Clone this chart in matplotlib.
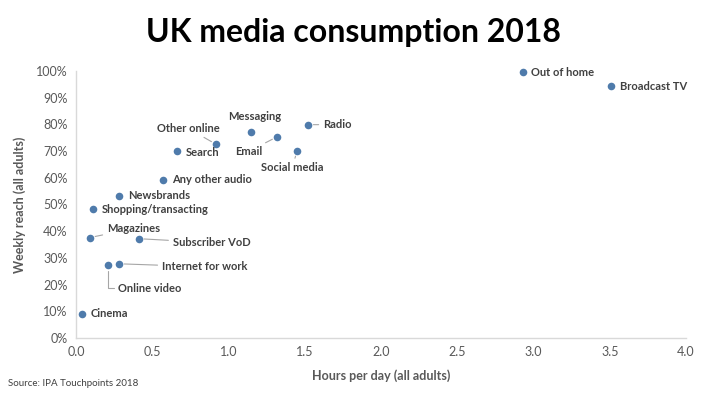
import matplotlib
matplotlib.use("Agg")
import matplotlib.pyplot as plt
from matplotlib.ticker import FuncFormatter

plt.rcParams['font.family'] = ['Lato', 'DejaVu Sans']

media = ["Out of home", "Broadcast TV", "Radio", "Messaging", "Email", "Other online",
         "Search", "Social media", "Any other audio", "Newsbrands", "Shopping/transacting",
         "Magazines", "Subscriber VoD", "Online video", "Internet for work", "Cinema"]
hours = [2.93, 3.51, 1.52, 1.15, 1.32, 0.92, 0.66, 1.45, 0.57, 0.28, 0.11,
         0.09, 0.41, 0.21, 0.28, 0.04]
reach = [0.995, 0.943, 0.799, 0.770, 0.754, 0.725, 0.700, 0.701, 0.592, 0.533, 0.483,
         0.376, 0.372, 0.272, 0.278, 0.090]

# label offsets in pixels: (dx, dy, ha, leader, connection)
label_pos = {
    "Out of home": (8, 0, 'left', False, None),
    "Broadcast TV": (9, 0, 'left', False, None),
    "Radio": (15, 0, 'left', True, None),
    "Messaging": (3, 16, 'center', False, None),
    "Other online": (-28, 16, 'center', True, None),
    "Search": (9, -1, 'left', False, None),
    "Email": (-29, -15, 'center', True, None),
    "Social media": (-5, -17, 'center', True, None),
    "Any other audio": (9, 0, 'left', False, None),
    "Newsbrands": (9, 0, 'left', False, None),
    "Shopping/transacting": (9, 0, 'left', False, None),
    "Magazines": (17, 9, 'left', True, None),
    "Subscriber VoD": (34, -4, 'left', True, None),
    "Online video": (10, -23, 'left', True, "angle,angleA=0,angleB=90,rad=0"),
    "Internet for work": (43, -3, 'left', True, None),
    "Cinema": (9, 0, 'left', False, None),
}

fig = plt.figure(figsize=(7.06, 3.99), dpi=100)
ax = fig.add_axes([76 / 706, 1 - 338 / 399, 610 / 706, 267 / 399])

ax.scatter(hours, reach, s=30, color='#4f7bab', zorder=3, linewidths=0, clip_on=False)

for name, x, y in zip(media, hours, reach):
    dx, dy, ha, leader, conn = label_pos[name]
    kw = {}
    if leader:
        props = dict(arrowstyle='-', color='#a6a6a6', lw=0.8, shrinkA=1, shrinkB=4)
        if conn:
            props['connectionstyle'] = conn
            props['relpos'] = (0, 0.5)
        kw['arrowprops'] = props
    ax.annotate(name, (x, y), xytext=(dx, dy), textcoords='offset pixels',
                ha=ha, va='center', fontsize=8, color='#404040', fontweight='bold', **kw)

ax.set_xlim(0, 4.0)
ax.set_ylim(0, 1.0)
ax.set_xticks([i * 0.5 for i in range(9)])
ax.set_yticks([i * 0.1 for i in range(11)])
ax.xaxis.set_major_formatter(FuncFormatter(lambda v, p: f"{v:.1f}"))
ax.yaxis.set_major_formatter(FuncFormatter(lambda v, p: f"{v * 100:.0f}%"))
ax.tick_params(length=0, labelsize=9, labelcolor='#595959', pad=6)
for s in ['top', 'right']:
    ax.spines[s].set_visible(False)
for s in ['left', 'bottom']:
    ax.spines[s].set_color('#d9d9d9')
    ax.spines[s].set_linewidth(1)

ax.set_xlabel("Hours per day (all adults)", fontsize=9, color='#595959',
              fontweight='bold', labelpad=8)
ax.set_ylabel("Weekly reach (all adults)", fontsize=9, color='#595959',
              fontweight='bold', labelpad=7)

fig.text(0.5, 0.918, "UK media consumption 2018", ha='center', va='center',
         fontsize=23, fontweight='bold', color='black')
fig.text(8 / 706, 1 - 383 / 399, "Source: IPA Touchpoints 2018", ha='left', va='center',
         fontsize=7, color='#404040')

fig.savefig("out.png", dpi=100)
